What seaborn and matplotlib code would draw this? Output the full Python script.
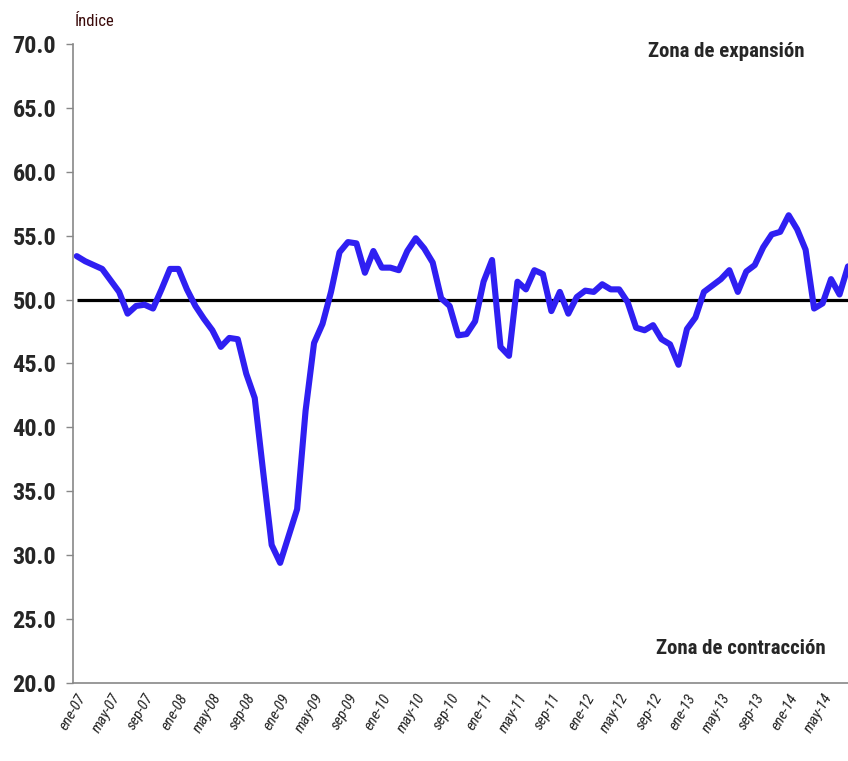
import pandas as pd
import matplotlib.pyplot as plt
import seaborn as sns


class GraficoIndice:
    def __init__(self):
        self.output_lineplot = "out.png"
        # valori mensili dell'indice (ene-07 ... ago-14)
        self.valori = [
            53.4, 53.0, 52.7, 52.4, 51.5, 50.6, 48.9, 49.5, 49.6, 49.3, 50.8, 52.4,
            52.4, 50.8, 49.5, 48.5, 47.6, 46.3, 47.0, 46.9, 44.2, 42.3, 36.5, 30.8,
            29.4, 31.5, 33.6, 41.3, 46.6, 48.1, 50.6, 53.7, 54.5, 54.4, 52.1, 53.8,
            52.5, 52.5, 52.3, 53.8, 54.8, 54.0, 52.9, 50.1, 49.5, 47.2, 47.3, 48.3,
            51.4, 53.1, 46.3, 45.6, 51.4, 50.8, 52.3, 52.0, 49.1, 50.6, 48.9, 50.2,
            50.7, 50.6, 51.2, 50.8, 50.8, 49.8, 47.8, 47.6, 48.0, 46.9, 46.5, 44.9,
            47.7, 48.6, 50.6, 51.1, 51.6, 52.3, 50.6, 52.2, 52.7, 54.1, 55.1, 55.3,
            56.6, 55.5, 53.9, 49.3, 49.7, 51.6, 50.4, 52.6,
        ]
        self.mesi = ["ene", "feb", "mar", "abr", "may", "jun",
                     "jul", "ago", "sep", "oct", "nov", "dic"]

    def creazione_dati(self) -> pd.DataFrame:
        # tabella con indice del mese ed etichetta
        etichette = [f"{self.mesi[i % 12]}-{7 + i // 12:02d}" for i in range(len(self.valori))]
        df = pd.DataFrame({"mese": range(len(self.valori)),
                           "etichetta": etichette,
                           "indice": self.valori})
        return df

    def visualizzazione_dati(self, df: pd.DataFrame) -> None:
        sns.set_style("white")
        plt.rcParams["font.family"] = ["Roboto Condensed", "Roboto", "DejaVu Sans"]

        fig = plt.figure(figsize=(8.48, 7.61), dpi=100)
        ax = fig.add_axes([0.086, 0.1025, 0.914, 0.8397])

        sns.lineplot(
            data=df,
            x="mese",
            y="indice",
            color="#2F1FF2",
            linewidth=4.4,
            ax=ax
            )
        ax.hlines(50, df["mese"].min(), df["mese"].max(), color="black", linewidth=2.3, zorder=1)

        ax.set_ylim(20, 70)
        ax.set_xlim(-0.45, 91)
        ax.set_yticks(range(20, 71, 5))
        ax.set_yticklabels([f"{v:.1f}" for v in range(20, 71, 5)],
                           fontsize=17.5, fontweight="bold")

        tick_pos = df["mese"][::4]
        ax.set_xticks(tick_pos)
        ax.set_xticklabels(df["etichetta"][::4], rotation=60, ha="right",
                           rotation_mode="anchor", fontstyle="italic", fontsize=11,
                           color="#222222")
        ax.tick_params(axis="y", length=5, width=1, color="#888888", left=True, pad=7)
        ax.tick_params(axis="x", length=0, pad=6)

        ax.set_xlabel("")
        ax.set_ylabel("")
        for lato in ["top", "right"]:
            ax.spines[lato].set_visible(False)
        for lato in ["left", "bottom"]:
            ax.spines[lato].set_color("#888888")
            ax.spines[lato].set_linewidth(1.2)

        # testi
        fig.text(0.088, 0.972, "Índice", fontsize=12, color="#3A0A0A", ha="left", va="center")
        ax.text(0.857, 0.932, "Zona de expansión", transform=fig.transFigure,
                fontsize=15, fontweight="bold", ha="center", va="center")
        ax.text(0.874, 0.148, "Zona de contracción", transform=fig.transFigure,
                fontsize=15, fontweight="bold", ha="center", va="center")

        plt.savefig(self.output_lineplot, dpi=100)
        plt.close()

    def esegui(self) -> None:
        df = self.creazione_dati()
        self.visualizzazione_dati(df)


if __name__ == "__main__":

    grafico = GraficoIndice()
    grafico.esegui()
